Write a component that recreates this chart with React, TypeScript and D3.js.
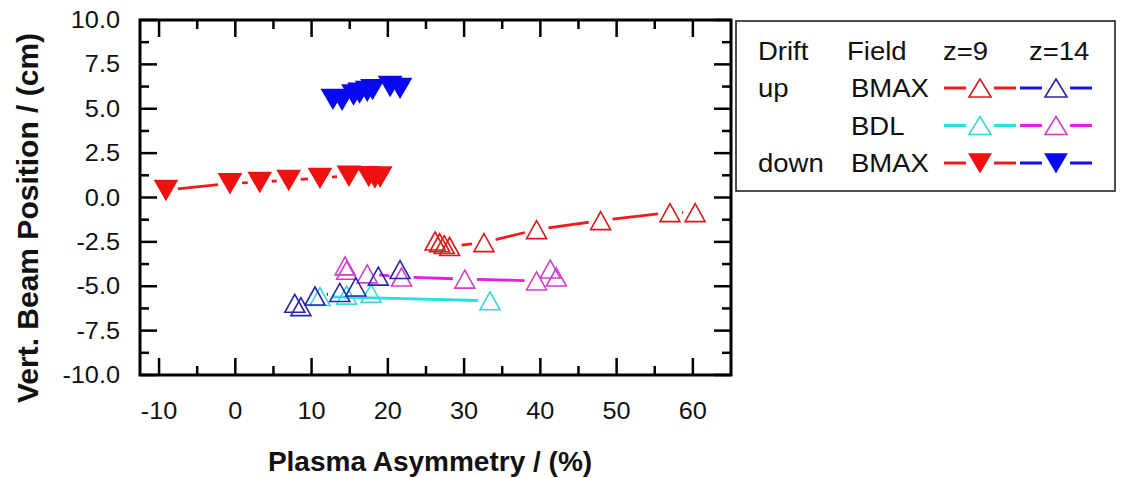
import React from "react";
import * as d3 from "d3";

// Axis ticks
const xMajorTicks = [-10, 0, 10, 20, 30, 40, 50, 60];
const xMinorTicks = [-5, 5, 15, 25, 35, 45, 55];
const yMajorTicks = [-10, -7.5, -5, -2.5, 0, 2.5, 5, 7.5, 10];
const yMinorTicks = [-8.75, -6.25, -3.75, -1.25, 1.25, 3.75, 6.25, 8.75];

// Drift up, BMAX, z=9
const upBmaxZ9X = [26.2, 26.8, 27.4, 28.1, 32.6, 39.5, 47.9, 57.0, 60.3];
const upBmaxZ9Y = [-2.45, -2.55, -2.65, -2.76, -2.54, -1.81, -1.3, -0.85, -0.85];

// Drift up, BMAX, z=14
const upBmaxZ14X = [7.8, 8.6, 10.45, 13.7, 15.8, 18.75, 21.6];
const upBmaxZ14Y = [-5.96, -6.15, -5.55, -5.35, -5.04, -4.43, -4.06];

// Drift up, BDL, z=9 (in measurement order)
const upBdlZ9X = [17.8, 14.6, 11.1, 33.4];
const upBdlZ9Y = [-5.4, -5.5, -5.58, -5.82];

// Drift up, BDL, z=14
const upBdlZ14X = [14.4, 14.6, 17.3, 21.8, 30.1, 39.5, 41.3, 42.1];
const upBdlZ14Y = [-3.85, -4.1, -4.3, -4.48, -4.6, -4.7, -4.03, -4.48];

// Drift down, BMAX, z=9
const downBmaxZ9X = [-9.1, -0.7, 3.2, 7.0, 11.1, 14.9, 17.5, 18.3, 19.0];
const downBmaxZ9Y = [0.42, 0.8, 0.87, 0.98, 1.1, 1.22, 1.2, 1.12, 1.18];

// Drift down, BMAX, z=14
const downBmaxZ14X = [12.8, 14.0, 15.5, 16.3, 17.3, 18.0, 20.3, 21.6];
const downBmaxZ14Y = [5.55, 5.5, 5.8, 5.9, 6.0, 6.1, 6.28, 6.17];

type Series = {
  xs: number[];
  ys: number[];
  line: string;
  stroke: string;
  filled: boolean;
  down: boolean;
};

const series: Series[] = [
  { xs: upBmaxZ9X, ys: upBmaxZ9Y, line: "#ee1c1c", stroke: "#d41a1a", filled: false, down: false },
  { xs: upBdlZ9X, ys: upBdlZ9Y, line: "#28e0e0", stroke: "#3ad6d6", filled: false, down: false },
  { xs: upBdlZ14X, ys: upBdlZ14Y, line: "#e21ee2", stroke: "#cf3fcf", filled: false, down: false },
  { xs: upBmaxZ14X, ys: upBmaxZ14Y, line: "#1414e6", stroke: "#2626a8", filled: false, down: false },
  { xs: downBmaxZ9X, ys: downBmaxZ9Y, line: "#ee1c1c", stroke: "#f01010", filled: true, down: true },
  { xs: downBmaxZ14X, ys: downBmaxZ14Y, line: "#1010f0", stroke: "#0808f2", filled: true, down: true },
];

const legendRows = [
  { drift: "up", field: "BMAX", z9: series[0], z14: series[3] },
  { drift: "", field: "BDL", z9: series[1], z14: series[2] },
  { drift: "down", field: "BMAX", z9: series[4], z14: series[5] },
];

const W = 1121;
const H = 478;
const plot = { left: 140, right: 731, top: 20, bottom: 375 };
const FONT = "'Liberation Sans', Arial, Helvetica, sans-serif";
const STRETCH = 1.1; // text is set slightly wide

const x = d3.scaleLinear().domain([-12.5, 65]).range([plot.left, plot.right]);
const y = d3.scaleLinear().domain([-10, 10]).range([plot.bottom, plot.top]);

function triPath(cx: number, cy: number, down: boolean, w: number, h: number) {
  const p = d3.path();
  if (down) {
    p.moveTo(cx - w / 2, cy - h / 2);
    p.lineTo(cx + w / 2, cy - h / 2);
    p.lineTo(cx, cy + h / 2);
  } else {
    p.moveTo(cx, cy - h / 2);
    p.lineTo(cx + w / 2, cy + h / 2);
    p.lineTo(cx - w / 2, cy + h / 2);
  }
  p.closePath();
  return p.toString();
}

// Line segments between consecutive points, leaving a gap around each symbol
function gapSegments(pts: [number, number][], gap: number) {
  const segs: [number, number, number, number][] = [];
  for (let i = 0; i < pts.length - 1; i++) {
    const [x0, y0] = pts[i];
    const [x1, y1] = pts[i + 1];
    const d = Math.hypot(x1 - x0, y1 - y0);
    if (d <= gap * 2 + 1) continue;
    const ux = (x1 - x0) / d;
    const uy = (y1 - y0) / d;
    segs.push([x0 + ux * gap, y0 + uy * gap, x1 - ux * gap, y1 - uy * gap]);
  }
  return segs;
}

function WideText({
  x: tx,
  y: ty,
  anchor = "start",
  size,
  children,
}: {
  x: number;
  y: number;
  anchor?: "start" | "middle" | "end";
  size: number;
  children: React.ReactNode;
}) {
  return (
    <text transform={`translate(${tx},${ty}) scale(${STRETCH},1)`} textAnchor={anchor} fontSize={size}>
      {children}
    </text>
  );
}

function Marker({ s, cx, cy, w, h }: { s: Series; cx: number; cy: number; w: number; h: number }) {
  return (
    <path
      d={triPath(cx, cy, s.down, w, h)}
      fill={s.filled ? s.stroke : "none"}
      stroke={s.stroke}
      strokeWidth={1.6}
      strokeLinejoin="miter"
    />
  );
}

function LegendSample({ s, cx, cy }: { s: Series; cx: number; cy: number }) {
  return (
    <g>
      <line x1={cx - 36} x2={cx - 14} y1={cy} y2={cy} stroke={s.line} strokeWidth={3} />
      <line x1={cx + 14} x2={cx + 36} y1={cy} y2={cy} stroke={s.line} strokeWidth={3} />
      <Marker s={s} cx={cx} cy={cy} w={s.filled ? 21 : 22} h={s.filled ? 18 : 18} />
    </g>
  );
}

export default function App() {
  const tickW = 2.5;
  return (
    <svg
      width={W}
      height={H}
      viewBox={`0 0 ${W} ${H}`}
      style={{ position: "absolute", left: 0, top: 0, background: "#fff" }}
      fontFamily={FONT}
    >
      <rect x={0} y={0} width={W} height={H} fill="#fff" />

      {/* data lines */}
      {series.map((s, si) => {
        const pts = s.xs.map((v, i) => [x(v), y(s.ys[i])] as [number, number]);
        return (
          <g key={`l${si}`}>
            {gapSegments(pts, 12).map((g, i) => (
              <line key={i} x1={g[0]} y1={g[1]} x2={g[2]} y2={g[3]} stroke={s.line} strokeWidth={2.8} />
            ))}
          </g>
        );
      })}

      {/* data symbols */}
      {series.map((s, si) => (
        <g key={`m${si}`}>
          {s.xs.map((v, i) => (
            <Marker
              key={i}
              s={s}
              cx={x(v)}
              cy={y(s.ys[i])}
              w={s.filled ? 22 : 20}
              h={s.filled ? 19 : 18}
            />
          ))}
        </g>
      ))}

      {/* ticks on all four sides, pointing inward */}
      <g stroke="#000" strokeWidth={tickW}>
        {xMajorTicks.map((t) => (
          <g key={`xM${t}`}>
            <line x1={x(t)} x2={x(t)} y1={plot.bottom} y2={plot.bottom - 17} />
            <line x1={x(t)} x2={x(t)} y1={plot.top} y2={plot.top + 17} />
          </g>
        ))}
        {xMinorTicks.map((t) => (
          <g key={`xm${t}`}>
            <line x1={x(t)} x2={x(t)} y1={plot.bottom} y2={plot.bottom - 9} />
            <line x1={x(t)} x2={x(t)} y1={plot.top} y2={plot.top + 9} />
          </g>
        ))}
        {yMajorTicks.map((t) => (
          <g key={`yM${t}`}>
            <line x1={plot.left} x2={plot.left + 17} y1={y(t)} y2={y(t)} />
            <line x1={plot.right} x2={plot.right - 17} y1={y(t)} y2={y(t)} />
          </g>
        ))}
        {yMinorTicks.map((t) => (
          <g key={`ym${t}`}>
            <line x1={plot.left} x2={plot.left + 9} y1={y(t)} y2={y(t)} />
            <line x1={plot.right} x2={plot.right - 9} y1={y(t)} y2={y(t)} />
          </g>
        ))}
      </g>

      {/* frame */}
      <rect
        x={plot.left}
        y={plot.top}
        width={plot.right - plot.left}
        height={plot.bottom - plot.top}
        fill="none"
        stroke="#000"
        strokeWidth={3}
      />

      {/* tick labels */}
      <g fill="#111">
        {xMajorTicks.map((t) => (
          <WideText key={`xl${t}`} x={x(t)} y={419} anchor="middle" size={23}>
            {d3.format("d")(t).replace("\u2212", "-")}
          </WideText>
        ))}
        {yMajorTicks.map((t) => (
          <WideText key={`yl${t}`} x={120} y={y(t) + 8} anchor="end" size={23}>
            {d3.format(".1f")(t).replace("\u2212", "-")}
          </WideText>
        ))}
      </g>

      {/* axis titles */}
      <text x={430} y={471} textAnchor="middle" fontSize={28} fontWeight="bold" fill="#111">
        Plasma Asymmetry / (%)
      </text>
      <text
        transform={`translate(38,218) rotate(-90)`}
        textAnchor="middle"
        fontSize={30}
        fontWeight="bold"
        fill="#111"
      >
        Vert. Beam Position / (cm)
      </text>

      {/* legend */}
      <rect x={736} y={21} width={379} height={170} fill="#fff" stroke="#222" strokeWidth={1.6} />
      <g fill="#111">
        <WideText x={758} y={60} size={25}>Drift</WideText>
        <WideText x={847} y={60} size={25}>Field</WideText>
        <WideText x={943} y={60} size={25}>z=9</WideText>
        <WideText x={1029} y={60} size={25}>z=14</WideText>
        {legendRows.map((r, i) => {
          const cy = 88 + i * 37.5;
          return (
            <g key={`lg${i}`}>
              {r.drift && (
                <WideText x={758} y={cy + 9} size={25}>
                  {r.drift}
                </WideText>
              )}
              <WideText x={851} y={cy + 9} size={25}>
                {r.field}
              </WideText>
              <LegendSample s={r.z9} cx={980} cy={cy} />
              <LegendSample s={r.z14} cx={1056} cy={cy} />
            </g>
          );
        })}
      </g>
    </svg>
  );
}
